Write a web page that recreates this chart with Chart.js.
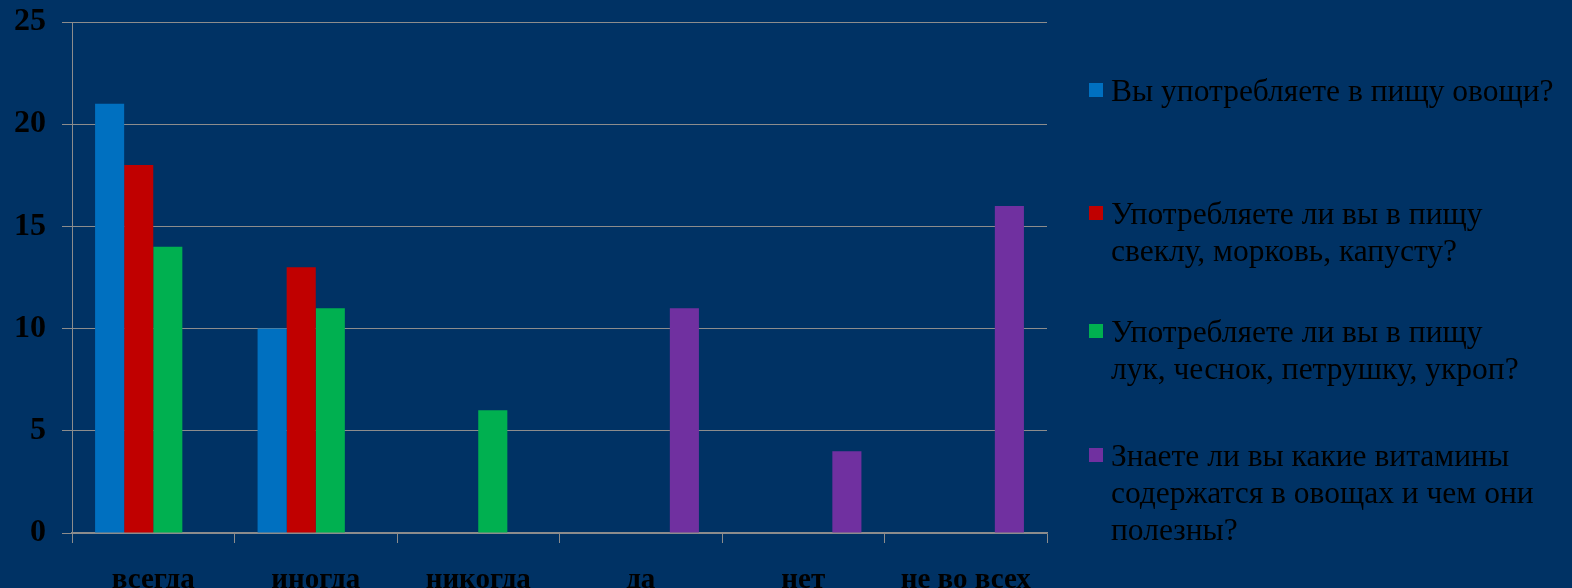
<!DOCTYPE html>
<html lang="ru">
<head>
  <meta charset="UTF-8" />
  <title>Овощи</title>
  <style>
    body {
      margin: 0;
      background-color: #003264;
      overflow: hidden;
    }

    .wrap {
      position: relative;
      width: 1572px;
      height: 588px;
    }

    .legend {
      position: absolute;
      left: 1089px;
      top: 0;
      font-family: 'Liberation Serif', 'Times New Roman', serif;
      font-size: 31.5px;
      color: #000;
    }

    .legend-item {
      position: absolute;
      left: 0;
      white-space: nowrap;
      line-height: 37px;
      padding-left: 22px;
    }

    .legend-item .box {
      position: absolute;
      left: 0;
      top: 11px;
      width: 14px;
      height: 14px;
    }
  </style>
</head>
<body>
  <div class="wrap">
    <canvas id="chart" width="1572" height="588"></canvas>
    <div class="legend" id="legend"></div>
  </div>

  <script src="https://cdn.jsdelivr.net/npm/chart.js"></script>
  <script>
    const categories = ['всегда', 'иногда', 'никогда', 'да', 'нет', 'не во всех'];

    const seriesNames = [
      ['Вы употребляете в пищу овощи?'],
      ['Употребляете ли вы в пищу', 'свеклу, морковь, капусту?'],
      ['Употребляете ли вы в пищу', 'лук, чеснок, петрушку, укроп?'],
      ['Знаете ли вы какие витамины', 'содержатся в овощах и чем они', 'полезны?']
    ];

    const vegetables = [21, 10, 0, 0, 0, 0];
    const beetCarrotCabbage = [18, 13, 0, 0, 0, 0];
    const onionGarlicHerbs = [14, 11, 6, 0, 0, 0];
    const knowVitamins = [0, 0, 0, 11, 4, 16];

    const yTicks = [0, 5, 10, 15, 20, 25];

    const colors = ['#0070c0', '#c00000', '#00b050', '#7030a0'];
    const legendTops = [72, 195, 313, 437];

    const seriesData = [vegetables, beetCarrotCabbage, onionGarlicHerbs, knowVitamins];
    const gridColor = '#8c8c8c';
    const serif = "'Liberation Serif', 'Times New Roman', serif";

    new Chart(document.getElementById('chart'), {
      type: 'bar',
      data: {
        labels: categories,
        datasets: seriesData.map((d, i) => ({
          label: seriesNames[i].join(' '),
          data: d,
          backgroundColor: colors[i],
          borderWidth: 0,
          barPercentage: 1,
          categoryPercentage: 0.716
        }))
      },
      options: {
        responsive: false,
        animation: false,
        layout: { padding: { top: 22, right: 525, left: 0, bottom: 0 } },
        plugins: {
          legend: { display: false },
          tooltip: { enabled: false }
        },
        scales: {
          x: {
            afterFit: s => { s.height = 55; },
            grid: {
              drawOnChartArea: false,
              color: gridColor,
              tickLength: 10,
              offset: true
            },
            border: { color: gridColor, width: 1.5 },
            ticks: {
              color: '#000',
              padding: 20,
              font: { family: serif, size: 29, weight: 'bold' }
            }
          },
          y: {
            min: 0,
            max: 25,
            afterFit: s => {
              s.width = 72;
              s.paddingTop = 0;
              s.paddingBottom = 0;
            },
            afterBuildTicks: s => { s.ticks = yTicks.map(v => ({ value: v })); },
            grid: {
              color: gridColor,
              tickLength: 10
            },
            border: { color: gridColor },
            ticks: {
              color: '#000',
              padding: 16,
              font: { family: serif, size: 32, weight: 'bold' }
            }
          }
        }
      }
    });

    // legend drawn as html so the lines break like the original
    const legendEl = document.getElementById('legend');
    seriesNames.forEach((lines, i) => {
      const item = document.createElement('div');
      item.className = 'legend-item';
      item.style.top = legendTops[i] + 'px';
      item.innerHTML = '<span class="box" style="background:' + colors[i] + '"></span>' + lines.join('<br>');
      legendEl.appendChild(item);
    });
  </script>
</body>
</html>
